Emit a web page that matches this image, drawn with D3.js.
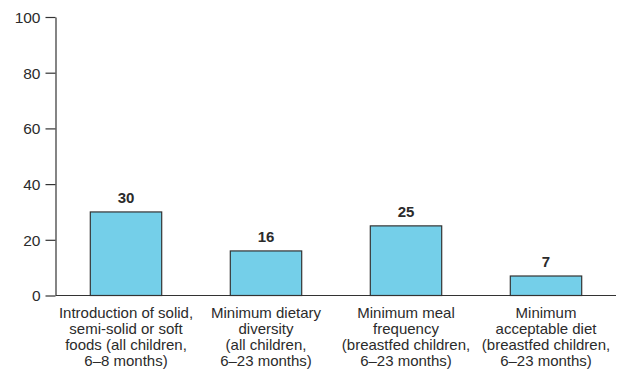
<!DOCTYPE html>
<html>
<head>
<meta charset="utf-8">
<script src="https://cdn.jsdelivr.net/npm/d3@7"></script>
<style>
  body { margin: 0; background: #fff; }
  text { font-family: "Liberation Sans", Arial, sans-serif; fill: #2b2b2b; }
</style>
</head>
<body>
<div id="chart"></div>
<script>
// data
var categories = [
    ["Introduction of solid,", "semi-solid or soft", "foods (all children,", "6\u20138 months)"],
    ["Minimum dietary", "diversity", "(all children,", "6\u201323 months)"],
    ["Minimum meal", "frequency", "(breastfed children,", "6\u201323 months)"],
    ["Minimum", "acceptable diet", "(breastfed children,", "6\u201323 months)"]
];
var values = [30, 16, 25, 7];
var yTicks = [0, 20, 40, 60, 80, 100];

var margin = { top: 17, right: 8, bottom: 76, left: 56 },
    width = 624 - margin.left - margin.right,
    height = 371 - margin.top - margin.bottom;

var svg = d3.select("#chart")
    .append("svg")
    .attr("width", 624)
    .attr("height", 371)
    .append("g")
    .attr("transform", "translate(" + margin.left + "," + margin.top + ")");

var idx = d3.range(values.length);

var x = d3.scaleBand()
    .domain(idx)
    .range([0, 560])
    .paddingInner(0.49)
    .paddingOuter(0.245);

var y = d3.scaleLinear()
    .domain([0, 100])
    .range([height + 0.5, 0]);

// y axis
var yAxis = svg.append("g")
    .attr("transform", "translate(-0.5,0)")
    .call(d3.axisLeft(y).tickValues(yTicks).tickSize(10).tickSizeOuter(0).tickPadding(5));
yAxis.select(".domain").attr("stroke", "#333").attr("stroke-width", 1.2);
yAxis.selectAll(".tick line").attr("stroke", "#333").attr("stroke-width", 1.2);
yAxis.selectAll(".tick text").style("font-size", "15.5px").attr("fill", "#333").attr("dy", "0.35em");

// x baseline
svg.append("line")
    .attr("x1", 0).attr("x2", 560)
    .attr("y1", y(0)).attr("y2", y(0))
    .attr("stroke", "#333").attr("stroke-width", 1.2);

// bars
svg.selectAll(".bar")
    .data(values)
    .enter().append("rect")
    .attr("class", "bar")
    .attr("x", function (d, i) { return x(i); })
    .attr("y", function (d) { return y(d); })
    .attr("width", x.bandwidth())
    .attr("height", function (d) { return y(0) - y(d); })
    .attr("fill", "#74cfe9")
    .attr("stroke", "#333")
    .attr("stroke-width", 1.2);

// value labels
svg.selectAll(".val")
    .data(values)
    .enter().append("text")
    .attr("class", "val")
    .attr("x", function (d, i) { return x(i) + x.bandwidth() / 2; })
    .attr("y", function (d) { return y(d) - 9; })
    .attr("text-anchor", "middle")
    .style("font-size", "15px")
    .style("font-weight", "bold")
    .text(function (d) { return d; });

// category labels
var cats = svg.selectAll(".cat")
    .data(categories)
    .enter().append("text")
    .attr("class", "cat")
    .attr("text-anchor", "middle")
    .style("font-size", "15px")
    .attr("transform", function (d, i) {
        return "translate(" + (x(i) + x.bandwidth() / 2) + "," + (y(0) + 22) + ")";
    });
cats.selectAll("tspan")
    .data(function (d) { return d; })
    .enter().append("tspan")
    .attr("x", 0)
    .attr("y", function (d, j) { return j * 16; })
    .text(function (d) { return d; });
</script>
</body>
</html>
